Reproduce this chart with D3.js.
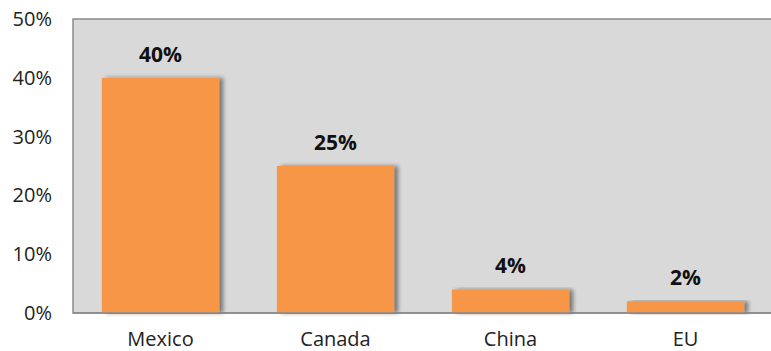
<!DOCTYPE html>
<html>
<head>
<meta charset="utf-8">
<script src="https://cdn.jsdelivr.net/npm/d3@7"></script>
<style>
  body { margin: 0; background: #fff; }
  svg { display: block; font-family: "Open Sans", sans-serif; }
</style>
</head>
<body>
<div id="chart"></div>
<script>
// Data
const categories = ["Mexico", "Canada", "China", "EU"];
const values = [40, 25, 4, 2];
const yTicks = [0, 10, 20, 30, 40, 50];

const W = 771, H = 351;
const margin = { top: 19, right: -2, bottom: 38, left: 73 };
const width = W - margin.left - margin.right;
const height = H - margin.top - margin.bottom;

const svg = d3.select("#chart")
    .append("svg")
    .attr("width", W)
    .attr("height", H);

// Shadow to the right of bars
const defs = svg.append("defs");
const f = defs.append("filter")
    .attr("id", "shadow")
    .attr("x", "-10%").attr("y", "-10%")
    .attr("width", "130%").attr("height", "120%");
f.append("feDropShadow")
    .attr("dx", 4).attr("dy", 0)
    .attr("stdDeviation", 2)
    .attr("flood-color", "#000")
    .attr("flood-opacity", 0.45);

const g = svg.append("g")
    .attr("transform", `translate(${margin.left},${margin.top})`);

// Scales
const x = d3.scaleBand()
    .domain(categories)
    .range([0, width])
    .paddingInner(0.33)
    .paddingOuter(0.165);

const y = d3.scaleLinear()
    .domain([0, 50])
    .range([height, 0]);

// Plot area
g.append("rect")
    .attr("x", 0).attr("y", 0)
    .attr("width", width).attr("height", height)
    .attr("fill", "#d9d9d9")
    .attr("stroke", "#8a8a8a")
    .attr("stroke-width", 1.5);

// Bars
g.selectAll(".bar")
    .data(values)
    .join("rect")
    .attr("class", "bar")
    .attr("x", (d, i) => x(categories[i]))
    .attr("y", d => y(d))
    .attr("width", x.bandwidth())
    .attr("height", d => y(0) - y(d))
    .attr("fill", "#f79646")
    .attr("filter", "url(#shadow)");

// Redraw baseline over shadow
g.append("line")
    .attr("x1", 0).attr("x2", width)
    .attr("y1", height).attr("y2", height)
    .attr("stroke", "#8a8a8a")
    .attr("stroke-width", 1.5);

// Value labels
g.selectAll(".val")
    .data(values)
    .join("text")
    .attr("class", "val")
    .attr("x", (d, i) => x(categories[i]) + x.bandwidth() / 2)
    .attr("y", d => y(d) - 16)
    .attr("text-anchor", "middle")
    .style("font-size", "21px")
    .style("font-weight", "bold")
    .style("fill", "#111")
    .text(d => d + "%");

// Y axis
const yAxis = g.append("g")
    .call(d3.axisLeft(y).tickValues(yTicks).tickFormat(d => d + "%").tickSize(0).tickPadding(21));
yAxis.select(".domain").remove();
yAxis.selectAll("text")
    .style("font-family", "'Open Sans', sans-serif")
    .style("font-size", "20px")
    .style("fill", "#222");

// X axis
const xAxis = g.append("g")
    .attr("transform", `translate(0,${height})`)
    .call(d3.axisBottom(x).tickSize(0).tickPadding(19));
xAxis.select(".domain").remove();
xAxis.selectAll("text")
    .style("font-family", "'Open Sans', sans-serif")
    .style("font-size", "20px")
    .style("fill", "#222");
</script>
</body>
</html>
